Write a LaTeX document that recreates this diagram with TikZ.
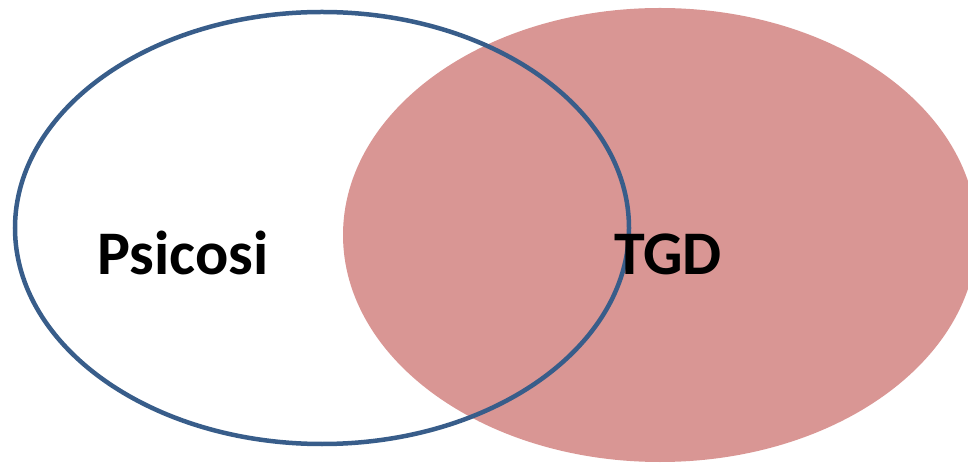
\documentclass[tikz,border=0pt]{standalone}
\usepackage{fontspec}
\setmainfont{Carlito}
\definecolor{vennblue}{HTML}{385D8A}
\definecolor{vennpink}{HTML}{D99694}
\tikzset{
  setlabel/.style={anchor=base, inner sep=0pt, font=\bfseries\fontsize{62}{70}\selectfont},
}
\begin{document}
\begin{tikzpicture}[x=1pt,y=1pt]
            \useasboundingbox (0,0) rectangle (968,463) ;
            \clip (0,0) rectangle (968,463) ;
            \fill[vennpink] (660,228) ellipse [x radius=317, y radius=227] ;
            \draw[vennblue, line width=4.5pt] (322,235) ellipse [x radius=307, y radius=216] ;
            \node[setlabel] (psicosi) at (183,188) {Psicosi} ;
            \node[setlabel] (tgd) at (668,188) {TGD} ;
        \end{tikzpicture}
\end{document}
